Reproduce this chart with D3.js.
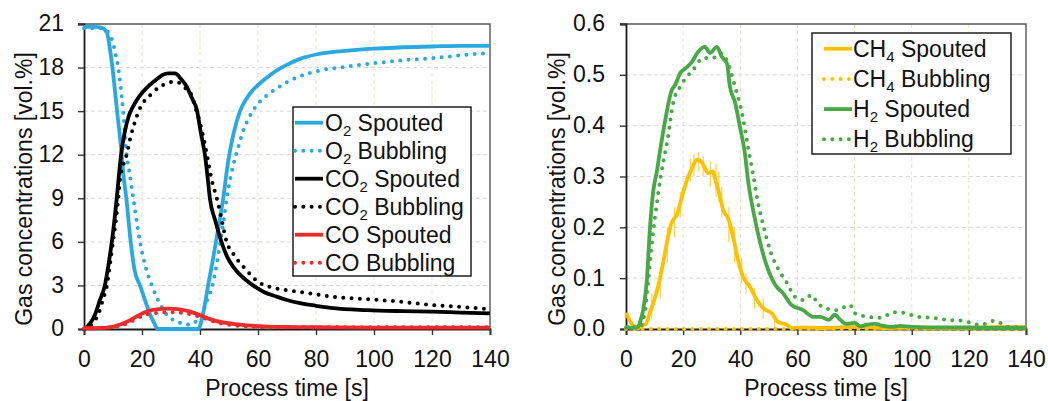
<!DOCTYPE html>
<html><head><meta charset="utf-8">
<script src="https://cdn.jsdelivr.net/npm/d3@7"></script>
<style>
html,body{margin:0;padding:0;background:#fff;}
svg{display:block;font-family:"Liberation Sans",Arial,sans-serif;}
</style></head>
<body><svg id="c" width="1048" height="401"></svg>
<script>
// ---------- data (time [s], concentration [vol.%]) ----------
const xTicks = [0,20,40,60,80,100,120,140];
const yTicksLeft = [0,3,6,9,12,15,18,21];
const yTicksRight = [0,0.1,0.2,0.3,0.4,0.5,0.6];

const o2Spouted = [[0,20.8],[4,20.8],[6,20.75],[7.9,20.4],[9,19.2],[9.8,18],[11.4,15],[13,12],[13.4,11],[14.6,9],[16.1,6],[17.5,4],[19.3,3],[21,2],[22.8,1],[24.2,0.4],[25.4,0],[39.4,0],[41,1],[42.8,3],[44.2,4.5],[45.5,6],[46.8,7.5],[48,9],[49.6,11.4],[51.5,13.4],[53.8,15],[56,15.85],[58,16.4],[60,16.8],[62,17.15],[64,17.45],[66,17.75],[68.6,18.05],[71,18.3],[74.5,18.6],[80,18.9],[90,19.15],[100,19.3],[110,19.4],[120,19.45],[130,19.5],[140,19.5]];
const o2Bubbling = [[0,20.7],[6,20.7],[8,20.5],[9.7,19.9],[10.8,19],[11.8,18],[13.5,15],[14.7,12],[15.5,11],[17,9],[19.3,6],[21.2,4.3],[23.4,3],[26,1.8],[28.5,1],[31,0.6],[33.5,0.4],[35.5,0.3],[37.5,0.35],[39,0.6],[40.6,1],[42.5,2],[44.3,3],[45.8,4.5],[47,6],[48.2,7.5],[49.2,9],[50.4,10.3],[51.5,11.3],[53,12.4],[55,13.7],[57,14.6],[59.5,15.4],[62.5,16.0],[66,16.5],[70,17.0],[74.5,17.4],[81.4,17.8],[90,18.05],[100,18.3],[110,18.5],[122.8,18.7],[130,18.85],[140,19.0]];
const co2Spouted = [[0,0],[1,0.15],[2.5,0.5],[3.8,1],[5.5,2],[7.2,3],[8.5,4.5],[9.6,6],[10.5,7.5],[11.3,9],[12,10.5],[12.8,12],[14,13.5],[15.5,14.7],[16.6,15.2],[19,16],[21.6,16.6],[24.5,17.1],[27.2,17.5],[29,17.6],[31.4,17.6],[33.5,17.2],[35.4,16.7],[37.2,15.9],[38.9,15.1],[40.3,13.5],[41.7,12],[42.6,10.5],[43.4,9],[45.2,7.5],[47.4,6],[49.3,5],[51.4,4.3],[54.5,3.6],[58.3,3.0],[62,2.55],[66.4,2.23],[70,2.0],[74.5,1.78],[80,1.6],[86,1.43],[97.5,1.3],[110,1.23],[120,1.19],[130,1.13],[140,1.08]];
const co2Bubbling = [[0,0],[1.2,0.1],[3,0.4],[4.9,1],[6.5,2],[7.9,3],[9,4.5],[10,6],[11,7.5],[11.8,9],[12.4,10.3],[13.4,11.2],[14.7,12],[15.8,13],[17,13.9],[19.3,15.2],[21.2,15.8],[23.4,16.2],[25.5,16.6],[27.3,16.8],[30.2,17.0],[32,17.0],[33.8,16.8],[35.4,16.5],[36.6,16.3],[38.3,15.3],[40,14.2],[42.4,12],[44,10.3],[45.8,9],[47.5,7.5],[49.2,6],[51.4,5.2],[56,4.06],[59.9,3.26],[64,2.9],[71,2.64],[78,2.45],[86,2.22],[97.5,2.06],[109,1.88],[120,1.65],[132,1.49],[140,1.36]];
const coSpouted = [[0,0.05],[5,0.07],[8,0.1],[10,0.15],[13,0.35],[15.9,0.6],[18.5,0.9],[21.6,1.2],[25,1.35],[29,1.4],[33,1.35],[36.6,1.2],[39.5,1.0],[42.4,0.75],[45,0.58],[48,0.45],[52,0.33],[56,0.25],[60,0.2],[70,0.14],[80,0.12],[100,0.1],[140,0.1]];
const coBubbling = [[0,0.02],[5,0.05],[8,0.1],[10,0.12],[13,0.25],[16,0.5],[19,0.8],[21.6,1.0],[25,1.1],[28,1.15],[31,1.15],[34,1.1],[38.9,0.9],[42,0.7],[45,0.5],[48,0.35],[52,0.25],[56,0.18],[60,0.15],[70,0.12],[140,0.12]];

const ch4Spouted = [[0,0.032],[1.5,0.015],[3,0.004],[4.5,0.002],[6,0.008],[7,0.01],[8.2,0.03],[9.5,0.05],[11.2,0.083],[13,0.13],[14.3,0.17],[16,0.21],[17.8,0.225],[19.6,0.26],[21.3,0.293],[23,0.315],[24.8,0.333],[26.6,0.327],[27.6,0.317],[28.7,0.307],[30.4,0.31],[31.2,0.295],[32.9,0.26],[34,0.234],[35.7,0.218],[37.5,0.181],[39.2,0.136],[41,0.102],[43.4,0.083],[45.8,0.057],[48,0.041],[51,0.031],[53.2,0.014],[56.4,0.008],[58,0.002],[62,0.003],[70,0.002],[80,0.004],[90,0.002],[100,0.003],[110,0.002],[120,0.002],[130,0.004],[140,0.004]];
const ch4Spikes = [[9,0.02,0.07],[12,0.06,0.12],[14.5,0.13,0.2],[17,0.18,0.24],[19,0.22,0.27],[22.5,0.29,0.335],[23.8,0.3,0.345],[25.5,0.31,0.348],[27,0.3,0.34],[29.5,0.28,0.33],[31.5,0.26,0.325],[32.5,0.25,0.31],[33.5,0.22,0.28],[36,0.17,0.24],[38,0.13,0.2],[40.5,0.09,0.14],[42,0.07,0.11],[45,0.04,0.08],[48,0.02,0.06],[52,0.0,0.03]];
const ch4Bubbling = [[0,0],[140,0]];
const h2Spouted = [[0,0.005],[2,0.002],[4.2,0.004],[5,0.015],[6,0.037],[7.3,0.096],[8.4,0.2],[9.5,0.27],[10.8,0.31],[11.9,0.35],[13.7,0.41],[16,0.47],[17.2,0.48],[18.9,0.503],[21.3,0.515],[23,0.525],[25.2,0.545],[27.6,0.555],[29.4,0.543],[31.8,0.555],[33.6,0.535],[35.3,0.523],[36.4,0.476],[38.2,0.445],[39.9,0.397],[41.6,0.346],[42.7,0.293],[45.2,0.214],[46.9,0.171],[49.4,0.122],[52.2,0.087],[55,0.07],[58,0.047],[62,0.037],[65.5,0.024],[68,0.024],[71,0.018],[73,0.028],[75,0.018],[77,0.01],[80,0.012],[82,0.005],[84,0.008],[87,0.01],[90,0.006],[93,0.004],[96,0.006],[100,0.004],[110,0.003],[120,0.003],[130,0.002],[140,0.002]];
const h2Bubbling = [[0,0.003],[5,0.005],[6.5,0.03],[7.7,0.09],[9.1,0.17],[10.8,0.248],[12.3,0.305],[14.7,0.378],[16.5,0.445],[18.9,0.476],[21.3,0.496],[23.5,0.51],[27,0.533],[30.5,0.533],[32.9,0.543],[35.7,0.523],[38.2,0.476],[40.6,0.425],[42.7,0.358],[44.5,0.303],[46.2,0.248],[48,0.205],[50.4,0.155],[52.9,0.122],[56.4,0.09],[59.2,0.063],[62,0.057],[65,0.067],[66.8,0.053],[69.6,0.041],[73.8,0.037],[78.4,0.047],[80,0.031],[84.7,0.024],[89,0.022],[94,0.033],[98,0.031],[102,0.024],[107.5,0.022],[112,0.018],[118,0.016],[124,0.008],[129,0.016],[134,0.004],[140,0.003]];

const leftSeries = [
  {name:"O", sub:"2", rest:" Spouted", data:o2Spouted, color:"#2aa9e0", dotted:false},
  {name:"O", sub:"2", rest:" Bubbling", data:o2Bubbling, color:"#2aa9e0", dotted:true},
  {name:"CO", sub:"2", rest:" Spouted", data:co2Spouted, color:"#000000", dotted:false},
  {name:"CO", sub:"2", rest:" Bubbling", data:co2Bubbling, color:"#000000", dotted:true},
  {name:"CO Spouted", sub:"", rest:"", data:coSpouted, color:"#ee2a2a", dotted:false},
  {name:"CO Bubbling", sub:"", rest:"", data:coBubbling, color:"#ee2a2a", dotted:true}
];
const rightSeries = [
  {name:"CH", sub:"4", rest:" Spouted", data:ch4Spouted, color:"#ffc000", dotted:false},
  {name:"CH", sub:"4", rest:" Bubbling", data:ch4Bubbling, color:"#ffc000", dotted:true},
  {name:"H", sub:"2", rest:" Spouted", data:h2Spouted, color:"#48a846", dotted:false},
  {name:"H", sub:"2", rest:" Bubbling", data:h2Bubbling, color:"#48a846", dotted:true}
];

// ---------- drawing ----------
const svg = d3.select("#c");
const FS = 23;

function panel(opt){
  const g = svg.append("g");
  const x = d3.scaleLinear().domain([0,140]).range([opt.x0,opt.x1]);
  const y = d3.scaleLinear().domain([0,opt.ymax]).range([329,24]);
  // grid
  g.append("g").selectAll("line").data(opt.yTicks.filter(v=>v>0 && v<opt.ymax)).join("line")
    .attr("x1",opt.x0).attr("x2",opt.x1).attr("y1",d=>y(d)).attr("y2",d=>y(d))
    .attr("stroke","#d9d9d9").attr("stroke-width",1).attr("stroke-dasharray","4,3");
  g.append("g").selectAll("line").data(xTicks.filter(v=>v>0 && v<140)).join("line")
    .attr("y1",24).attr("y2",329).attr("x1",d=>x(d)).attr("x2",d=>x(d))
    .attr("stroke","#e6e2cf").attr("stroke-width",1).attr("stroke-dasharray","4,3");
  // frame top/right
  g.append("path").attr("d",`M${opt.x0-6},24H${opt.x1}V329`).attr("fill","none")
    .attr("stroke","#555").attr("stroke-width",1.4);
  // axes
  const ax = g.append("g").attr("transform","translate(0,329)")
    .call(d3.axisBottom(x).tickValues(xTicks).tickSize(6).tickFormat(d3.format("d")));
  ax.selectAll("text").attr("y",38).attr("dy",0);
  const ay = g.append("g").attr("transform",`translate(${opt.x0},0)`)
    .call(d3.axisLeft(y).tickValues(opt.yTicks).tickSize(6).tickPadding(opt.pad).tickFormat(opt.fmt));
  [ax,ay].forEach(a=>{
    a.select(".domain").attr("stroke","#1a1a1a").attr("stroke-width",1.8);
    a.selectAll(".tick line").attr("stroke","#333").attr("stroke-width",1.4);
    a.selectAll("text").attr("font-size",FS).attr("fill","#111").attr("font-family","Liberation Sans, Arial, sans-serif");
  });
  ay.selectAll("text").attr("dy","0.3em");
  // titles
  g.append("text").attr("x",(opt.x0+opt.x1)/2).attr("y",396).attr("text-anchor","middle")
    .attr("font-size",FS).attr("fill","#111").text("Process time [s]");
  g.append("text").attr("transform",`translate(${opt.tx},189) rotate(-90)`).attr("text-anchor","middle")
    .attr("font-size",FS).attr("fill","#111").text("Gas concentrations [vol.%]");
  // extras
  if (opt.spikes){
    g.append("g").selectAll("line").data(opt.spikes).join("line")
      .attr("x1",d=>x(d[0])).attr("x2",d=>x(d[0])).attr("y1",d=>y(d[1])).attr("y2",d=>y(d[2]))
      .attr("stroke","#ffcf4a").attr("stroke-width",1.2);
  }
  // series
  const line = d3.line().x(d=>x(d[0])).y(d=>y(d[1])).curve(d3.curveMonotoneX);
  opt.series.forEach(s=>{
    const p = g.append("path").attr("d",line(s.data)).attr("fill","none")
      .attr("stroke",s.color).attr("stroke-linejoin","round");
    if (s.dotted) p.attr("stroke-width",4).attr("stroke-linecap","round").attr("stroke-dasharray","0,8.3");
    else p.attr("stroke-width",3.8);
  });
  // legend
  const L = opt.legend;
  const lg = g.append("g");
  lg.append("rect").attr("x",L.x).attr("y",L.y).attr("width",L.w).attr("height",L.h)
    .attr("fill","#fff").attr("stroke","#111").attr("stroke-width",1.4);
  opt.series.forEach((s,i)=>{
    const yy = L.row0 + i*L.dy;
    const p = lg.append("line").attr("x1",L.lx0).attr("x2",L.lx1).attr("y1",yy).attr("y2",yy)
      .attr("stroke",s.color);
    if (s.dotted) p.attr("stroke-width",4).attr("stroke-linecap","round").attr("stroke-dasharray","0,8.3");
    else p.attr("stroke-width",3.8);
    const t = lg.append("text").attr("x",L.tx).attr("y",yy+7.8).attr("font-size",FS).attr("fill","#111");
    t.append("tspan").text(s.name);
    if (s.sub){
      t.append("tspan").attr("font-size",15).attr("dy",5).text(s.sub);
      t.append("tspan").attr("dy",-5).text(s.rest);
    }
  });
}

panel({x0:84,x1:490,ymax:21,yTicks:yTicksLeft,fmt:d3.format("d"),pad:14,tx:31.5,
  series:leftSeries,
  legend:{x:293,y:107,w:178,h:169,row0:122.7,dy:28,lx0:295,lx1:323,tx:325}});
panel({x0:626,x1:1026,ymax:0.6,yTicks:yTicksRight,fmt:d3.format(".1f"),pad:15,tx:565,
  series:rightSeries, spikes:ch4Spikes,
  legend:{x:812,y:33,w:199,h:121,row0:48.7,dy:30.2,lx0:824,lx1:852,tx:853}});
</script>
</body></html>
